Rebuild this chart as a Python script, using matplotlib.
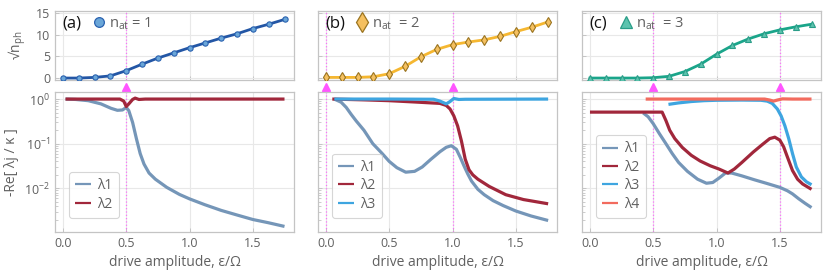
import matplotlib
matplotlib.use("Agg")
import matplotlib.pyplot as plt
from matplotlib.lines import Line2D
from matplotlib.ticker import LogLocator, NullFormatter, FixedLocator

plt.rcParams['font.family'] = ['Open Sans', 'DejaVu Sans']
plt.rcParams['mathtext.fontset'] = 'custom'
plt.rcParams['mathtext.rm'] = 'Open Sans'
plt.rcParams['mathtext.it'] = 'Open Sans'

# ---------------- data ----------------
x_top = [0.0, 0.125, 0.25, 0.375, 0.5, 0.625, 0.75, 0.875, 1.0, 1.125, 1.25, 1.375, 1.5, 1.625, 1.75]
nph_a = [0.0, 0.0, 0.15, 0.5, 1.7, 3.2, 4.6, 5.8, 7.0, 8.1, 9.2, 10.2, 11.4, 12.4, 13.5]
nph_b = [0.15, 0.15, 0.15, 0.3, 1.0, 2.7, 4.9, 6.6, 7.7, 8.3, 8.8, 9.6, 10.7, 11.7, 12.9]
nph_c = [0.0, 0.0, 0.0, 0.0, 0.08, 0.4, 1.5, 3.2, 5.5, 7.5, 9.0, 10.2, 11.1, 11.8, 12.4]

# panel (a)
a_l1_x = [0.02, 0.1, 0.2, 0.3, 0.38, 0.43, 0.47, 0.5, 0.52, 0.55, 0.58, 0.61, 0.64, 0.68, 0.73, 0.82, 0.92, 1.0, 1.12, 1.25, 1.38, 1.5, 1.62, 1.75]
a_l1_y = [1.0, 0.98, 0.92, 0.78, 0.62, 0.56, 0.57, 0.65, 0.55, 0.3, 0.13, 0.06, 0.035, 0.022, 0.016, 0.0105, 0.0073, 0.0058, 0.0043, 0.0032, 0.0025, 0.002, 0.0017, 0.0014]
a_l2_x = [0.02, 0.3, 0.45, 0.48, 0.5, 0.52, 0.55, 0.57, 0.6, 0.65, 1.0, 1.75]
a_l2_y = [1.0, 1.0, 1.0, 0.9, 0.68, 0.78, 0.98, 1.05, 0.98, 1.0, 1.0, 1.0]

# panel (b)
b_l1_x = [0.065, 0.12, 0.16, 0.2, 0.24, 0.3, 0.37, 0.44, 0.5, 0.56, 0.63, 0.7, 0.76, 0.83, 0.9, 0.95, 0.99, 1.03, 1.06, 1.09, 1.12, 1.15, 1.2, 1.25, 1.32, 1.4, 1.5, 1.62, 1.755]
b_l1_y = [1.0, 0.85, 0.65, 0.45, 0.32, 0.2, 0.1, 0.062, 0.04, 0.029, 0.023, 0.024, 0.03, 0.045, 0.066, 0.083, 0.09, 0.075, 0.05, 0.032, 0.021, 0.0145, 0.0095, 0.0072, 0.0053, 0.0041, 0.0031, 0.0024, 0.0019]
b_l2_x = [0.05, 0.3, 0.5, 0.7, 0.9, 0.95, 0.98, 1.01, 1.04, 1.07, 1.1, 1.13, 1.16, 1.2, 1.29, 1.42, 1.56, 1.755]
b_l2_y = [1.0, 0.96, 0.92, 0.86, 0.8, 0.72, 0.6, 0.42, 0.25, 0.115, 0.045, 0.026, 0.02, 0.016, 0.011, 0.0072, 0.0056, 0.0045]
b_l3_x = [0.066, 0.5, 0.85, 0.9, 0.95, 0.98, 1.01, 1.05, 1.1, 1.755]
b_l3_y = [1.0, 1.0, 0.99, 0.9, 0.78, 0.88, 1.03, 0.98, 0.99, 1.0]

# panel (c)
c_l1_x = [0.42, 0.46, 0.5, 0.55, 0.6, 0.65, 0.7, 0.77, 0.85, 0.92, 0.97, 1.02, 1.07, 1.12, 1.2, 1.3, 1.4, 1.5, 1.56, 1.6, 1.65, 1.7, 1.75]
c_l1_y = [0.49, 0.4, 0.28, 0.165, 0.1, 0.06, 0.038, 0.024, 0.016, 0.013, 0.0135, 0.017, 0.022, 0.022, 0.019, 0.0155, 0.0128, 0.0105, 0.0088, 0.0075, 0.0058, 0.0046, 0.0037]
c_l2_x = [0.0, 0.57, 0.6, 0.63, 0.67, 0.73, 0.8, 0.87, 0.95, 1.02, 1.09, 1.14, 1.2, 1.29, 1.36, 1.42, 1.46, 1.5, 1.53, 1.56, 1.6, 1.64, 1.68, 1.75]
c_l2_y = [0.51, 0.51, 0.33, 0.2, 0.13, 0.082, 0.055, 0.041, 0.032, 0.027, 0.022, 0.027, 0.038, 0.065, 0.095, 0.13, 0.14, 0.12, 0.085, 0.05, 0.025, 0.016, 0.0125, 0.0095]
c_l3_x = [0.62, 0.7, 0.8, 0.9, 1.0, 1.2, 1.35, 1.4, 1.44, 1.48, 1.51, 1.54, 1.57, 1.6, 1.63, 1.67, 1.71, 1.75]
c_l3_y = [0.76, 0.82, 0.88, 0.92, 0.94, 0.95, 0.94, 0.9, 0.8, 0.6, 0.42, 0.25, 0.13, 0.06, 0.03, 0.018, 0.014, 0.012]
c_l4_x = [0.44, 1.0, 1.38, 1.42, 1.45, 1.48, 1.52, 1.6, 1.75]
c_l4_y = [1.0, 1.0, 1.0, 0.95, 0.9, 0.95, 1.01, 1.0, 1.0]

vlines = [[0.5], [0.0, 1.0], [0.5, 1.5]]
panel_labels = ['(a)', '(b)', '(c)']
nat_labels = ['n$_{\\rm at}$ = 1', 'n$_{\\rm at}$  = 2', 'n$_{\\rm at}$  = 3']
xticks = [0.0, 0.5, 1.0, 1.5]
xticklabels = ['0.0', '0.5', '1.0', '1.5']
top_yticks = [0, 5, 10, 15]

# ---------------- styles ----------------
C1, C2, C3, C4 = '#7596b8', '#a1273b', '#3ea5e0', '#f26b5e'
TEXT = '#606060'
SPINE = '#c4c4c4'
GRID = '#e8e8e8'
MAG = '#ff55ff'

top_styles = [
    dict(color='#2356a5', marker='o', mfc='#6aa6d8', mec='#2a62b0', ms=3.8, lms=7.0),
    dict(color='#f5b731', marker='d', mfc='#f5c060', mec='#9a7420', ms=5.5, lms=10.0),
    dict(color='#1aa58a', marker='^', mfc='#5cc3ae', mec='#2a9d88', ms=4.6, lms=8.0),
]
bottom_series = [
    [(a_l1_x, a_l1_y, C1, 'λ1'), (a_l2_x, a_l2_y, C2, 'λ2')],
    [(b_l1_x, b_l1_y, C1, 'λ1'), (b_l2_x, b_l2_y, C2, 'λ2'), (b_l3_x, b_l3_y, C3, 'λ3')],
    [(c_l1_x, c_l1_y, C1, 'λ1'), (c_l2_x, c_l2_y, C2, 'λ2'), (c_l3_x, c_l3_y, C3, 'λ3'), (c_l4_x, c_l4_y, C4, 'λ4')],
]
tops = [nph_a, nph_b, nph_c]

W, H = 831, 279
fig = plt.figure(figsize=(W / 100, H / 100), dpi=100)
lefts = [55, 318, 582]
width = 239

def style_ax(ax):
    for s in ax.spines.values():
        s.set_color(SPINE)
        s.set_linewidth(0.9)
    ax.tick_params(direction='in', colors=SPINE, labelcolor=TEXT, labelsize=9, length=3, width=0.7)
    ax.tick_params(which='minor', direction='in', colors=SPINE, length=2, width=0.6)
    ax.grid(True, which='major', color=GRID, lw=0.8)
    ax.set_axisbelow(True)

for i in range(3):
    L = lefts[i] / W
    axt = fig.add_axes([L, 1 - 80 / H, width / W, 69 / H])
    axb = fig.add_axes([L, 1 - 232 / H, width / W, 140 / H])
    for ax in (axt, axb):
        style_ax(ax)
        ax.set_xlim(-0.063, 1.825)
        ax.set_xticks(xticks)
        for xv in vlines[i]:
            ax.axvline(xv, color=MAG, ls=':', lw=0.9, alpha=0.8, zorder=1)

    st = top_styles[i]
    axt.plot(x_top, tops[i], color=st['color'], lw=2.0, marker=st['marker'], ms=st['ms'],
             mfc=st['mfc'], mec=st['mec'], mew=0.8, zorder=3)
    axt.set_ylim(-0.45, 15.45)
    axt.set_yticks(top_yticks)
    axt.set_xticklabels([])
    axt.plot(vlines[i], [-1.95] * len(vlines[i]), ls='none', marker='^', color=MAG, ms=5.5, clip_on=False, zorder=5)
    if i == 0:
        axt.set_ylabel('√n$_{\\rm ph}$', color=TEXT, fontsize=10, labelpad=6)
    else:
        axt.set_yticklabels([])
    axt.text(0.03, 0.82, panel_labels[i], transform=axt.transAxes, fontsize=12, color='#111111', va='center')
    h = Line2D([], [], ls='none', marker=st['marker'], ms=st['lms'], mfc=st['mfc'], mec=st['mec'], mew=0.9)
    leg = axt.legend([h], [nat_labels[i]], loc='center left', bbox_to_anchor=(0.13, 0.82), frameon=False,
                     handlelength=0.8, handletextpad=0.3, borderpad=0.0, fontsize=10.5)
    for t in leg.get_texts():
        t.set_color(TEXT)

    for (xs, ys, c, lab) in bottom_series[i]:
        axb.plot(xs, ys, color=c, lw=2.3, label=lab, solid_joinstyle='round', solid_capstyle='butt', zorder=3)
    axb.set_yscale('log')
    axb.set_ylim(1.05e-3, 1.44)
    axb.yaxis.set_major_locator(FixedLocator([1e-2, 1e-1, 1e0]))
    axb.yaxis.set_minor_locator(LogLocator(base=10, subs=range(2, 10)))
    axb.yaxis.set_minor_formatter(NullFormatter())
    axb.set_xticklabels(xticklabels)
    axb.set_xlabel('drive amplitude, ε/Ω', color=TEXT, fontsize=10)
    if i == 0:
        axb.set_yticklabels(['10$^{-2}$', '10$^{-1}$', '10$^{0}$'])
        axb.set_ylabel('-Re[ λj / κ ]', color=TEXT, fontsize=10)
    else:
        axb.set_yticklabels([])
    lg = axb.legend(loc='lower left', bbox_to_anchor=(0.03, 0.05), fontsize=10, frameon=True,
                    handlelength=1.15, handletextpad=0.4, borderpad=0.45, labelspacing=0.25, fancybox=True)
    lg.get_frame().set_edgecolor('#cccccc')
    lg.get_frame().set_linewidth(0.8)
    for ln in lg.get_lines():
        ln.set_linewidth(1.6)
    for t in lg.get_texts():
        t.set_color(TEXT)

fig.savefig('out.png', dpi=100)
